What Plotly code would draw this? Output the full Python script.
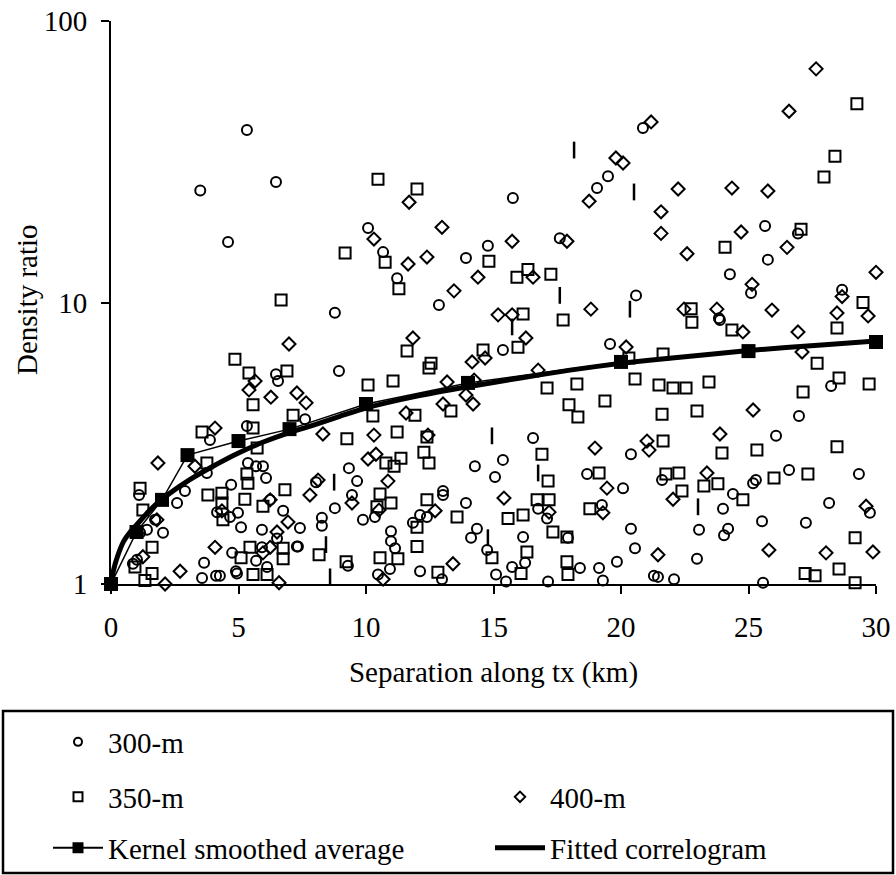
import plotly.graph_objects as go

FONT = "Liberation Serif"

# ---------------- data ----------------
x_ticks = [0, 5, 10, 15, 20, 25, 30]
y_ticks = [1, 10, 100]
y_tick_text = ["1", "10", "100"]

c300_x = [3.5, 5.33, 6.47, 4.59, 15.76, 10.08, 10.67, 11.22, 8.78, 12.86, 13.92, 14.78, 17.6, 20.86, 19.06, 19.49, 25.65, 26.94, 25.76, 24.27, 25.1, 28.67, 20.59, 23.84,
          6.47, 6.55, 5.33, 3.88, 5.37, 5.69, 5.96, 6.08, 3.76, 4.71, 2.9, 1.1, 2.59, 6.24, 6.75, 4.16, 4.98, 4.67, 5.1, 2.04, 1.73, 1.41, 1.14, 5.92, 6.51, 7.29, 4.75, 5.92, 3.65, 5.69, 6.12, 4.9, 4.94, 0.86, 1.02, 3.57, 4.12, 4.27,
          8.94, 15.37, 7.61, 16.55, 14.27, 15.37, 15.06, 9.33, 9.65, 8.04, 9.45, 8.78, 9.88, 13.02, 13.02, 13.92, 10.35, 12.12, 11.84, 12.39, 8.27, 8.27, 7.41, 10.98, 10.98, 11.14, 14.35, 14.12, 14.75, 16.16, 16.75, 17.1, 17.92, 7.33, 9.29, 10.94, 10.47, 12.12, 12.98, 15.1, 15.49, 15.73, 16.24, 17.14,
          19.57, 23.88, 28.24, 26.98, 26.08, 20.39, 18.67, 20.08, 21.61, 26.59, 29.33, 25.18, 25.29, 24.39, 19.25, 24.0, 28.16, 29.76, 20.39, 23.06, 24.2, 24.04, 25.53, 27.25, 20.55, 19.84, 22.98, 18.39, 19.14, 19.29, 21.29, 21.45, 22.08, 25.57]
c300_y = [25.0, 41.0, 26.8, 16.4, 23.5, 18.4, 15.1, 12.2, 9.2, 9.8, 14.4, 15.9, 16.9, 41.7, 25.5, 28.1, 18.7, 17.6, 14.2, 12.6, 10.8, 11.1, 10.6, 8.8,
          5.56, 5.26, 3.64, 3.25, 2.69, 2.62, 2.62, 2.38, 2.48, 2.25, 2.14, 2.07, 1.94, 1.99, 1.82, 1.80, 1.79, 1.73, 1.59, 1.52, 1.69, 1.56, 1.52, 1.56, 1.45, 1.36, 1.29, 1.35, 1.19, 1.21, 1.15, 1.11, 1.09, 1.18, 1.22, 1.05, 1.07, 1.07,
          5.71, 6.78, 3.85, 3.30, 2.62, 2.76, 2.40, 2.58, 2.32, 2.30, 2.07, 1.86, 1.69, 2.14, 2.07, 1.94, 1.73, 1.76, 1.65, 1.73, 1.72, 1.61, 1.58, 1.54, 1.42, 1.34, 1.57, 1.46, 1.32, 1.47, 1.85, 1.71, 1.46, 1.36, 1.16, 1.13, 1.08, 1.11, 1.04, 1.08, 1.02, 1.15, 1.19, 1.02,
          7.12, 8.67, 5.05, 3.95, 3.36, 2.89, 2.46, 2.19, 2.34, 2.54, 2.46, 2.28, 2.34, 2.09, 1.91, 1.85, 1.94, 1.79, 1.57, 1.56, 1.57, 1.49, 1.67, 1.65, 1.34, 1.20, 1.23, 1.14, 1.14, 1.03, 1.07, 1.06, 1.04, 1.01]

s350_x = [6.67, 10.47, 12.0, 9.18, 10.75, 11.29, 14.82, 15.92, 16.35, 17.25, 16.16, 17.73, 29.25, 28.39, 27.96, 27.06, 24.08, 29.49, 22.75,
          4.86, 5.41, 6.9, 5.57, 7.14, 3.57, 5.57, 5.73, 3.76, 5.33, 5.37, 1.14, 6.82, 3.8, 4.35, 4.35, 5.25, 5.96, 1.25, 4.39, 1.61, 5.45, 5.1, 6.75, 6.75, 0.94, 1.61, 1.33, 5.57, 6.12,
          11.61, 12.55, 12.47, 15.96, 14.59, 10.08, 11.06, 17.1, 18.27, 17.96, 18.31, 10.27, 11.92, 13.33, 9.25, 11.22, 12.39, 12.27, 12.47, 11.37, 10.78, 11.1, 16.9, 17.14, 10.55, 10.43, 10.98, 12.39, 13.57, 15.57, 16.16, 16.71, 17.18, 12.0, 12.0, 8.16, 9.22, 10.55, 11.25, 12.82, 14.94, 16.31, 16.08, 17.33, 17.88, 17.88, 17.92,
          22.78, 24.35, 28.47, 20.31, 21.65, 27.69, 20.55, 21.49, 22.04, 22.55, 23.45, 27.14, 28.55, 29.73, 19.37, 21.61, 22.98, 21.65, 23.96, 25.33, 28.47, 19.14, 21.76, 22.27, 23.25, 23.8, 22.39, 24.78, 26.0, 27.33, 18.78, 29.18, 27.22, 27.61, 28.55, 29.18]
s350_y = [10.2, 27.4, 25.3, 15.0, 13.9, 11.2, 14.0, 12.3, 13.1, 12.6, 9.1, 8.67, 50.8, 33.1, 27.9, 18.2, 15.7, 10.0, 9.5,
          6.28, 5.62, 5.71, 4.33, 3.98, 3.47, 3.58, 3.04, 2.69, 2.46, 2.28, 2.19, 2.16, 2.07, 2.10, 1.94, 2.00, 1.89, 1.83, 1.69, 1.35, 1.35, 1.24, 1.34, 1.23, 1.15, 1.09, 1.03, 1.08, 1.08,
          6.72, 6.09, 5.85, 6.94, 6.78, 5.09, 5.26, 4.97, 5.13, 4.33, 3.92, 3.95, 3.98, 4.12, 3.28, 3.47, 3.33, 2.94, 2.69, 2.80, 2.69, 2.62, 2.89, 2.32, 2.09, 1.88, 1.94, 1.99, 1.73, 1.71, 1.76, 1.99, 1.99, 1.59, 1.36, 1.27, 1.20, 1.24, 1.23, 1.10, 1.24, 1.30, 1.09, 1.53, 1.47, 1.20, 1.08,
          8.5, 7.99, 8.12, 6.35, 6.56, 6.09, 5.35, 5.09, 4.97, 4.97, 5.22, 4.81, 5.39, 5.13, 4.47, 4.01, 4.12, 3.22, 2.92, 2.99, 3.07, 2.48, 2.46, 2.48, 2.23, 2.27, 2.14, 1.99, 2.38, 2.46, 1.85, 1.46, 1.09, 1.07, 1.13, 1.01]

d400_x = [11.69, 12.98, 10.31, 11.65, 12.39, 13.45, 14.39, 15.73, 16.55, 17.88, 15.18, 15.73, 27.65, 26.59, 21.18, 19.8, 20.08, 18.75, 22.24, 24.35, 25.76, 21.57, 21.57, 22.59, 24.71, 26.51, 25.14, 30.0, 28.67, 18.82, 22.47, 23.76, 25.92, 28.47, 29.69,
          6.98, 5.65, 5.41, 6.27, 7.29, 4.08, 3.29, 1.84, 6.24, 4.35, 1.8, 4.08, 6.51, 6.24, 5.96, 6.94, 1.25, 2.71, 2.12, 6.59,
          11.84, 16.27, 14.16, 14.67, 7.65, 13.18, 14.24, 16.75, 11.57, 13.02, 14.2, 13.92, 8.31, 10.31, 12.43, 10.39, 10.08, 10.86, 8.12, 7.8, 9.45, 10.51, 12.71, 15.41, 17.18, 13.41, 10.67,
          24.78, 26.94, 20.2, 27.1, 25.18, 23.88, 18.98, 21.02, 21.1, 23.37, 19.45, 22.04, 19.29, 29.61, 25.8, 28.04, 29.88, 21.45]
d400_y = [22.7, 18.5, 16.8, 13.7, 14.5, 11.0, 12.3, 16.5, 12.3, 16.5, 9.04, 9.04, 67.6, 47.8, 43.8, 32.6, 31.3, 22.9, 25.3, 25.5, 24.9, 21.0, 17.6, 14.9, 17.8, 15.7, 11.6, 12.8, 10.5, 9.47, 9.47, 9.47, 9.4, 9.18, 8.96,
          7.12, 5.26, 4.89, 4.61, 4.77, 3.58, 2.62, 2.69, 1.99, 1.82, 1.69, 1.35, 1.53, 1.35, 1.29, 1.66, 1.25, 1.11, 1.0, 1.01,
          7.48, 7.48, 6.15, 6.35, 4.40, 5.22, 5.30, 5.75, 4.05, 4.36, 4.36, 4.69, 3.41, 3.38, 3.38, 2.89, 2.78, 2.32, 2.34, 2.07, 1.94, 1.83, 1.82, 2.02, 1.80, 1.18, 1.04,
          7.86, 7.86, 6.95, 6.67, 4.15, 3.41, 3.04, 3.22, 2.99, 2.48, 2.19, 2.00, 1.79, 1.89, 1.32, 1.29, 1.30, 1.27]

other_x = [18.16, 17.6, 20.51, 20.35, 15.73, 14.94, 16.75, 8.75, 14.78, 8.43, 8.59, 23.02]
other_y = [34.8, 10.6, 24.7, 9.47, 8.19, 3.36, 2.48, 2.30, 1.46, 1.38, 1.06, 1.88]

kernel_x = [0, 1, 2, 3, 5, 7, 10, 14, 20, 25, 30]
kernel_y = [1.0, 1.53, 1.99, 2.87, 3.22, 3.55, 4.36, 5.18, 6.15, 6.72, 7.24]

fit_x = [0, 0.1, 0.25, 0.5, 0.75, 1, 1.5, 2, 3, 4, 5, 6, 7, 8, 9, 10, 12, 14, 16, 18, 20, 22, 25, 28, 30]
fit_y = [1.0, 1.12, 1.25, 1.42, 1.53, 1.62, 1.82, 2.0, 2.32, 2.62, 2.92, 3.2, 3.45, 3.68, 3.95, 4.22, 4.65, 5.02, 5.38, 5.75, 6.08, 6.35, 6.75, 7.08, 7.3]

legend_names = ["300-m", "350-m", "400-m", "Kernel smoothed average", "Fitted correlogram"]
x_title = "Separation along tx (km)"
y_title = "Density ratio"

# ---------------- figure ----------------
FS = 29
fig = go.Figure()

def pts(x, y, symbol, size, lw=2):
    fig.add_trace(go.Scatter(
        x=x, y=y, mode="markers", showlegend=False, cliponaxis=False,
        marker=dict(symbol=symbol, size=size, color="black", line=dict(width=lw, color="black")),
        hoverinfo="x+y"))

pts(c300_x, c300_y, "circle-open", 10)
pts(s350_x, s350_y, "square-open", 11)
pts(d400_x, d400_y, "diamond-open", 10)
pts(other_x, other_y, "line-ns-open", 12, 2.5)

fig.add_trace(go.Scatter(x=fit_x, y=fit_y, mode="lines", showlegend=False, cliponaxis=False,
                         line=dict(color="black", width=5, shape="spline", smoothing=0.6)))
fig.add_trace(go.Scatter(x=kernel_x, y=kernel_y, mode="lines+markers", showlegend=False, cliponaxis=False,
                         line=dict(color="black", width=1.5),
                         marker=dict(symbol="square", size=14, color="black")))

# legend proxies (one legend per entry so the grid matches the reference box)
legend_specs = [
    ("legend",  dict(mode="markers", marker=dict(symbol="circle-open", size=8, color="black", line=dict(width=2)))),
    ("legend2", dict(mode="markers", marker=dict(symbol="square-open", size=9, color="black", line=dict(width=2)))),
    ("legend3", dict(mode="markers", marker=dict(symbol="diamond-open", size=8, color="black", line=dict(width=2)))),
    ("legend4", dict(mode="lines+markers", line=dict(color="black", width=2),
                     marker=dict(symbol="square", size=11, color="black"))),
    ("legend5", dict(mode="lines", line=dict(color="black", width=5))),
]
for name, (lg, spec) in zip(legend_names, legend_specs):
    fig.add_trace(go.Scatter(x=[None], y=[None], name=name, legend=lg, showlegend=True, **spec))

W, H = 896, 875
col1, col2 = 48, 490
row1, row2, row3 = 742, 797, 848
leg_common = dict(xref="container", yref="container", xanchor="left", yanchor="middle",
                  bgcolor="rgba(0,0,0,0)", borderwidth=0, itemwidth=50,
                  font=dict(family=FONT, size=FS, color="black"), itemclick=False, itemdoubleclick=False)

fig.update_layout(
    width=W, height=H,
    margin=dict(l=111, r=20, t=21, b=291, autoexpand=False),
    paper_bgcolor="white", plot_bgcolor="white",
    font=dict(family=FONT, size=FS, color="black"),
    legend=dict(x=col1 / W, y=1 - row1 / H, **leg_common),
    legend2=dict(x=col1 / W, y=1 - row2 / H, **leg_common),
    legend3=dict(x=col2 / W, y=1 - row2 / H, **leg_common),
    legend4=dict(x=col1 / W, y=1 - row3 / H, **leg_common),
    legend5=dict(x=col2 / W, y=1 - row3 / H, **leg_common),
    xaxis=dict(range=[0, 30], tickvals=x_ticks, ticks="outside", ticklen=8, tickwidth=2,
               tickcolor="black", showline=True, linewidth=2, linecolor="black",
               showgrid=False, zeroline=False, ticklabelstandoff=8,
               tickfont=dict(family=FONT, size=FS),
               title=dict(text=x_title, standoff=20, font=dict(family=FONT, size=FS))),
    yaxis=dict(type="log", range=[0, 2], tickvals=y_ticks, ticktext=y_tick_text,
               ticks="outside", ticklen=8, tickwidth=2, tickcolor="black",
               showline=True, linewidth=2, linecolor="black",
               showgrid=False, zeroline=False, ticklabelstandoff=8,
               tickfont=dict(family=FONT, size=FS)),
)

fig.add_annotation(text=y_title, textangle=-90, xref="paper", yref="paper",
                   x=(27 - 111) / 765, y=(584 - 300) / 563, xanchor="center", yanchor="middle",
                   showarrow=False, font=dict(family=FONT, size=FS, color="black"))

# legend frame
fig.add_shape(type="rect", xref="paper", yref="paper",
              x0=(3 - 111) / 765, x1=(893 - 111) / 765,
              y0=(584 - 873) / 563, y1=(584 - 711) / 563,
              line=dict(color="black", width=2.5), fillcolor="rgba(0,0,0,0)", layer="above")

fig.write_html("out.html")
